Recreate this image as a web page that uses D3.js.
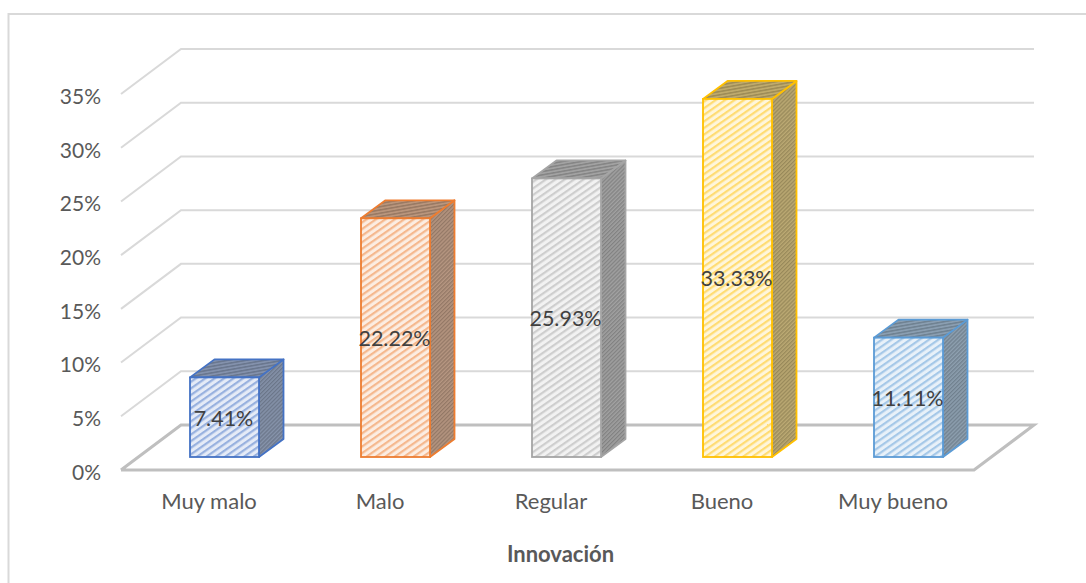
<!DOCTYPE html>
<html><head><meta charset="utf-8">
<style>html,body{margin:0;padding:0;background:#fff}svg{display:block}
text{font-family:Lato,"Open Sans",sans-serif;fill:#595959}</style>
<script src="https://cdnjs.cloudflare.com/ajax/libs/d3/7.8.5/d3.min.js"></script>
</head><body><div id="c"></div>
<script>
const categories=["Muy malo","Malo","Regular","Bueno","Muy bueno"];
const values=[7.41,22.22,25.93,33.33,11.11];
const labels=["7.41%","22.22%","25.93%","33.33%","11.11%"];
const tickValues=[0,5,10,15,20,25,30,35];
const lineColors=["#4472c4","#ed7d31","#a5a5a5","#ffc000","#5b9bd5"];
const axisTitle="Innovación";

const W=1086,H=583;
const svg=d3.select("#c").append("svg").attr("width",W).attr("height",H);
const defs=svg.append("defs");
const y=d3.scaleLinear().domain([0,35]).range([470,94]);
const x=d3.scaleBand().domain(categories).range([139,994]);
const dx=60,dy=45;
const barW=69,bdx=24.5,bdy=18;

function mk(id,bg,fg,sz,sw,rot){
  const p=defs.append("pattern").attr("id",id).attr("patternUnits","userSpaceOnUse")
    .attr("width",sz).attr("height",sz).attr("patternTransform",`rotate(${rot})`);
  p.append("rect").attr("width",sz).attr("height",sz).attr("fill",bg);
  p.append("rect").attr("width",sw).attr("height",sz).attr("fill",fg);
}
lineColors.forEach((c,i)=>{
  mk("f"+i,d3.interpolateRgb(c,"#fff")(0.86),d3.interpolateRgb(c,"#fff")(0.45),5.4,2.2,55);
  mk("t"+i,d3.interpolateRgb(c,"#a0a0a0")(0.68),d3.interpolateRgb(c,"#777")(0.72),3.2,1.5,80);
  mk("s"+i,d3.interpolateRgb(c,"#a0a0a0")(0.72),d3.interpolateRgb(c,"#777")(0.76),2.8,1.3,45);
});

// chart frame
svg.append("path").attr("d",`M8.5,583V14H1086`).attr("fill","none").attr("stroke","#d9d9d9").attr("stroke-width",2);

// gridlines: side wall + back wall
const grid=svg.append("g");
tickValues.forEach(t=>{
  const yf=y(t);
  grid.append("path")
    .attr("d",`M${121},${yf}L${121+dx},${yf-dy}H1034`+(t===0?`L${974},${yf}H121`:""))
    .attr("fill","none").attr("stroke",t===0?"#bfbfbf":"#d9d9d9").attr("stroke-width",t===0?3:2);
});

// axes
const yAxis=d3.axisLeft(y).tickValues(tickValues).tickFormat(d=>d+"%").tickSize(0).tickPadding(0);
const ya=svg.append("g").attr("transform","translate(101,2)").call(yAxis);
ya.select(".domain").remove();
ya.attr("font-family",null).attr("font-size",null);
ya.selectAll("text").attr("font-size",21).attr("dy","0.35em");

const xAxis=d3.axisBottom(x).tickSize(0).tickPadding(0);
const xa=svg.append("g").attr("transform","translate(-15.5,493)").call(xAxis);
xa.select(".domain").remove();
xa.attr("font-family",null).attr("font-size",null);
xa.selectAll("text").attr("font-size",22).attr("dy","0.71em");

svg.append("text").attr("x",560.5).attr("y",562).attr("text-anchor","middle")
  .attr("font-size",22).attr("font-weight",700).text(axisTitle);

// bars
const base=y(0)-13;
const bars=svg.append("g").selectAll("g").data(categories).join("g");
bars.each(function(c,i){
  const g=d3.select(this);
  const xc=x(c)+x.bandwidth()/2, x0=xc-barW/2, x1=xc+barW/2;
  const top=base-(y(0)-y(values[i]));
  const sc=lineColors[i];
  g.append("path").attr("d",`M${x1},${top}L${x1+bdx},${top-bdy}V${base-bdy}L${x1},${base}Z`)
    .attr("fill",`url(#s${i})`).attr("stroke",sc).attr("stroke-width",1.8).attr("stroke-linejoin","round");
  g.append("path").attr("d",`M${x0},${top}L${x0+bdx},${top-bdy}H${x1+bdx}L${x1},${top}Z`)
    .attr("fill",`url(#t${i})`).attr("stroke",sc).attr("stroke-width",1.8).attr("stroke-linejoin","round");
  g.append("rect").attr("x",x0).attr("y",top).attr("width",barW).attr("height",base-top)
    .attr("fill",`url(#f${i})`).attr("stroke",sc).attr("stroke-width",1.8);
  g.append("text").attr("x",xc-1).attr("y",(top+base)/2+1).attr("dy","0.35em").attr("text-anchor","middle")
    .attr("font-size",21.5).style("fill","#404040").text(labels[i]);
});
</script></body></html>
